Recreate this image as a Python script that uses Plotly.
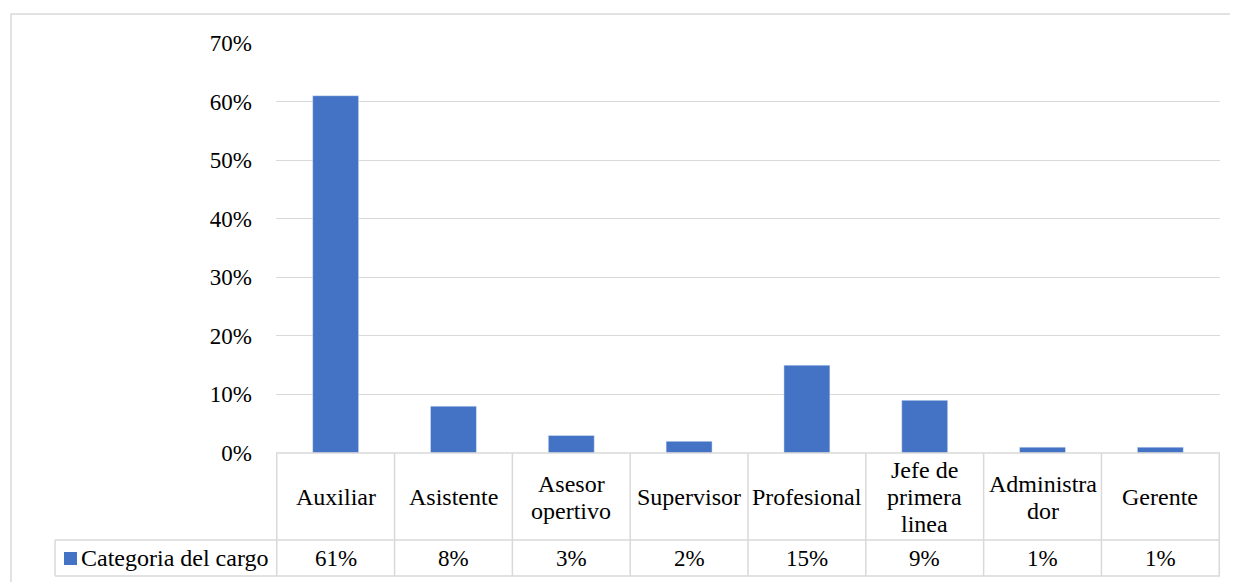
import plotly.graph_objects as go

categories = ['Auxiliar', 'Asistente', 'Asesor opertivo', 'Supervisor',
              'Profesional', 'Jefe de primera linea', 'Administrador', 'Gerente']
header_labels = ['Auxiliar', 'Asistente', 'Asesor<br>opertivo', 'Supervisor',
                 'Profesional', 'Jefe de<br>primera<br>linea', 'Administra<br>dor', 'Gerente']
values = [0.61, 0.08, 0.03, 0.02, 0.15, 0.09, 0.01, 0.01]
series_name = 'Categoria del cargo'

# page body has an 8px margin, so the figure is drawn 8px smaller and
# positions below are given in page pixels
OFF = 8
W, H = 1238 - OFF, 582 - OFF
BLUE = '#4472c4'
GRID = '#d9d9d9'
FONT = 'Liberation Serif, Times New Roman, serif'


def px(x):
    return (x - OFF) / W


def py(y):
    return 1 - (y - OFF) / H


fig = go.Figure(go.Bar(x=categories, y=values, marker_color=BLUE,
                       name=series_name, showlegend=False, hoverinfo='x+y'))

fig.update_layout(
    width=W, height=H,
    margin=dict(l=0, r=0, t=0, b=0, autoexpand=False),
    paper_bgcolor='white', plot_bgcolor='white',
    font=dict(family=FONT, size=23, color='#000000'),
    bargap=0.61,
)
fig.update_xaxes(domain=[px(276), px(1220)], showticklabels=False,
                 showline=False, showgrid=False, ticks='', automargin=False)
fig.update_yaxes(domain=[py(453), py(43)], range=[0, 0.7], dtick=0.1,
                 tickformat='.0%', showgrid=True, gridcolor=GRID, gridwidth=1,
                 zeroline=False, showline=False, ticks='',
                 ticklabelstandoff=23, automargin=False)

shapes = []
line = dict(color=GRID, width=1.5)
# outer chart border (runs past the right and bottom edges)
shapes.append(dict(type='rect', xref='paper', yref='paper',
                   x0=px(11), x1=px(1250), y0=py(600), y1=py(14),
                   line=dict(color=GRID, width=1.5)))
# table horizontal lines
for y in (453, 540, 576):
    x0 = 276 if y == 453 else 55
    shapes.append(dict(type='line', xref='paper', yref='paper',
                       x0=px(x0), x1=px(1220), y0=py(y), y1=py(y), line=line))
# table vertical lines at category boundaries
for i in range(len(categories) + 1):
    shapes.append(dict(type='line', xref='x', yref='paper',
                       x0=i - 0.5, x1=i - 0.5, y0=py(576), y1=py(453), line=line))
# legend cell left edge
shapes.append(dict(type='line', xref='paper', yref='paper',
                   x0=px(55), x1=px(55), y0=py(576), y1=py(540), line=line))
# legend key square
shapes.append(dict(type='rect', xref='paper', yref='paper',
                   x0=px(64), x1=px(77), y0=py(565), y1=py(552),
                   fillcolor=BLUE, line=dict(width=0)))

annotations = []
LINE_H = 27
for cat, lab, v in zip(categories, header_labels, values):
    parts = lab.split('<br>')
    n = len(parts)
    for k, part in enumerate(parts):
        annotations.append(dict(x=cat, xref='x', y=py(497), yref='paper',
                                text=part, showarrow=False, yanchor='middle',
                                yshift=-(k - (n - 1) / 2) * LINE_H,
                                font=dict(size=24)))
    annotations.append(dict(x=cat, xref='x', y=py(558), yref='paper',
                            text=f'{v:.0%}', showarrow=False, yanchor='middle',
                            font=dict(size=23)))
annotations.append(dict(x=px(79), xref='paper', y=py(558), yref='paper',
                        text=series_name, showarrow=False, xanchor='left',
                        yanchor='middle', font=dict(size=24)))

fig.update_layout(shapes=shapes, annotations=annotations)

fig.write_html('out.html')
